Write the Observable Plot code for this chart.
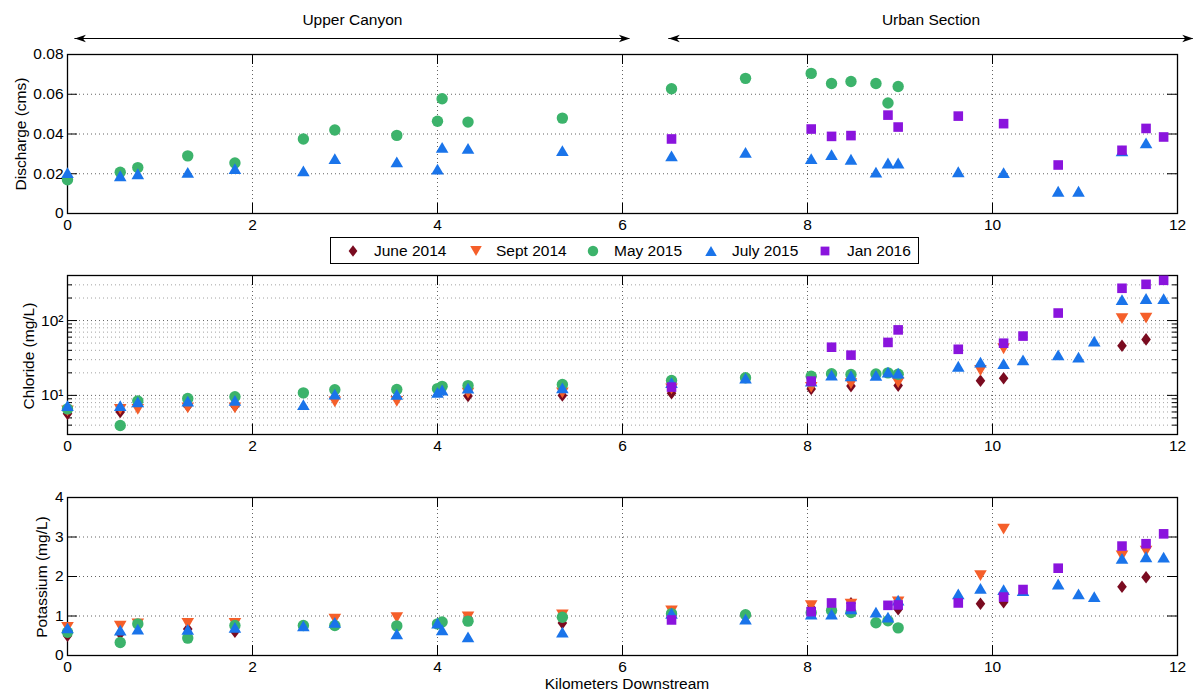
<!DOCTYPE html>
<html>
<head>
<meta charset="utf-8">
<script src="https://cdn.jsdelivr.net/npm/d3@7"></script>
<script src="https://cdn.jsdelivr.net/npm/@observablehq/plot@0.6"></script>
<style>
  body { margin: 0; background: #fff; }
  #root { position: relative; width: 1199px; height: 692px; background: #fff; font-family: "Liberation Sans", Arial, Helvetica, sans-serif; color: #000; overflow: hidden; }
  .panel { position: absolute; left: 0; }
  .ylab { position: absolute; transform: translate(-50%, -50%) rotate(-90deg); white-space: nowrap; font-size: 15.5px; }
  .xlab { position: absolute; transform: translate(-50%, -50%); white-space: nowrap; font-size: 15.5px; }
  #legend { position: absolute; left: 330px; top: 237px; width: 587px; height: 25px; border: 1.3px solid #000; background: #fff; z-index: 5; }
  .litem { position: absolute; top: 0; height: 25px; display: flex; align-items: center; font-size: 15.5px; white-space: nowrap; }
</style>
</head>
<body>
<div id="root">
  <div id="p1" class="panel" style="top:0px"></div>
  <div id="p2" class="panel" style="top:235px"></div>
  <div id="p3" class="panel" style="top:460px"></div>
  <div class="ylab" style="left:21px; top:134px">Discharge (cms)</div>
  <div class="ylab" style="left:29px; top:356px">Chloride (mg/L)</div>
  <div class="ylab" style="left:42px; top:577px">Potassium (mg/L)</div>
  <div class="xlab" style="left:627px; top:684px">Kilometers Downstream</div>
  <div id="legend"></div>
</div>
<script>
// ---------------- data ----------------
const seriesNames = ["June 2014", "Sept 2014", "May 2015", "July 2015", "Jan 2016"];
const seriesColors = ["#7a0b20", "#f55f2a", "#3cb36b", "#1a74ea", "#8a14dd"];
const seriesShapes = ["diamond", "down", "circle", "up", "square"];

const juneKm = [0, 0.57, 1.30, 1.81, 4.33, 5.35, 6.53, 8.04, 8.47, 8.98, 9.87, 10.12, 11.40, 11.66];
const juneCl = [5.7, 6.0, 7.2, 7.2, 9.8, 10.0, 10.7, 12.2, 13.3, 13.5, 15.7, 16.9, 46, 56];
const juneK  = [0.50, 0.55, 0.67, 0.60, 0.95, 0.82, 1.10, 1.20, 1.32, 1.17, 1.31, 1.35, 1.74, 1.98];

const septKm = [0, 0.57, 0.76, 1.30, 1.81, 2.89, 3.56, 4.33, 5.35, 6.53, 8.04, 8.47, 8.98, 9.87, 10.12, 11.40, 11.66];
const septCl = [6.2, 6.5, 6.5, 6.8, 6.8, 8.2, 8.3, 10.7, 10.8, 12.2, 12.8, 14.4, 14.8, 21.5, 42, 106, 108];
const septK  = [0.71, 0.74, 0.80, 0.81, 0.81, 0.92, 0.96, 0.98, 1.03, 1.13, 1.26, 1.30, 1.36, 2.02, 3.20, 2.52, 2.64];

const mayKm = [0, 0.57, 0.76, 1.30, 1.81, 2.55, 2.89, 3.56, 4.00, 4.05, 4.33, 5.35, 6.53, 7.33, 8.04, 8.26, 8.47, 8.74, 8.87, 8.98];
const mayQ  = [0.017, 0.0208, 0.0231, 0.029, 0.0254, 0.0375, 0.042, 0.0393, 0.0464, 0.0577, 0.046, 0.048, 0.0628, 0.068, 0.0705, 0.0654, 0.0664, 0.0654, 0.0556, 0.0639];
const mayCl = [6.6, 3.95, 8.4, 9.1, 9.6, 10.8, 11.9, 12.0, 12.3, 13.2, 13.5, 14.0, 15.8, 17.2, 18.0, 19.5, 19.0, 19.3, 20.0, 19.2];
const mayK  = [0.59, 0.33, 0.80, 0.44, 0.76, 0.76, 0.76, 0.75, 0.80, 0.85, 0.87, 0.97, 1.06, 1.03, 1.08, 1.14, 1.09, 0.83, 0.88, 0.70];

const julyKm = [0, 0.57, 0.76, 1.30, 1.81, 2.55, 2.89, 3.56, 4.00, 4.05, 4.33, 5.35, 6.53, 7.33, 8.04, 8.26, 8.47, 8.74, 8.87, 8.98, 9.63, 9.87, 10.12, 10.33, 10.71, 10.93, 11.10, 11.40, 11.66, 11.85];
const julyQ  = [0.0206, 0.019, 0.020, 0.0207, 0.0226, 0.0214, 0.0276, 0.026, 0.0223, 0.0333, 0.0328, 0.0316, 0.029, 0.0308, 0.0276, 0.0296, 0.0273, 0.0208, 0.0254, 0.0254, 0.021, null, 0.0206, null, 0.0112, 0.0112, null, 0.0315, 0.0355, null];
const julyCl = [7.3, 7.3, 8.2, 8.4, 8.6, 7.5, 10.4, 10.3, 11.0, 11.8, 12.5, 12.6, 14.8, 17.0, 15.5, 18.6, 18.3, 18.5, 20.5, 19.8, 24.5, 27.8, 26.5, 29.8, 34.7, 32.4, 53, 190, 197, 196];
const julyK  = [0.70, 0.64, 0.67, 0.66, 0.71, 0.75, 0.84, 0.55, 0.82, 0.65, 0.47, 0.59, 1.07, 0.92, 1.05, 1.05, 1.18, 1.10, 0.97, 1.40, 1.56, 1.70, 1.67, 1.64, 1.81, 1.56, 1.49, 2.46, 2.50, 2.49];

const janKm = [6.53, 8.04, 8.26, 8.47, 8.87, 8.98, 9.63, 10.12, 10.33, 10.71, 11.40, 11.66, 11.85];
const janQ  = [0.0375, 0.0425, 0.0388, 0.0392, 0.0495, 0.0435, 0.049, 0.0452, null, 0.0244, 0.0318, 0.0428, 0.0385];
const janCl = [12.9, 15.5, 44, 34.5, 51, 75, 41.3, 49.8, 62, 126, 270, 305, 345];
const janK  = [0.90, 1.11, 1.33, 1.24, 1.27, 1.28, 1.33, 1.48, 1.67, 2.21, 2.77, 2.83, 3.08];

const regionNames = ["Upper Canyon", "Urban Section"];
const regionStart = [0.08, 6.50];
const regionEnd   = [6.08, 12.17];

const xTicks = [0, 2, 4, 6, 8, 10, 12];
const qTicks = [0, 0.02, 0.04, 0.06, 0.08];
const clMajor = [10, 100];
const clMinor = [3, 4, 5, 6, 7, 8, 9, 20, 30, 40, 50, 60, 70, 80, 90, 200, 300, 400];
const kTicks = [0, 1, 2, 3, 4];

// ---------------- build tables ----------------
const kmArrays = [juneKm, septKm, mayKm, julyKm, janKm];
const qArrays  = [null, null, mayQ, julyQ, janQ];
const clArrays = [juneCl, septCl, mayCl, julyCl, janCl];
const kArrays  = [juneK, septK, mayK, julyK, janK];

function rows(valueArrays) {
  return seriesNames.map((name, s) => {
    const vals = valueArrays[s];
    if (!vals) return [];
    return kmArrays[s].map((km, i) => ({km, v: vals[i]})).filter(d => d.v != null);
  });
}
const qRows = rows(qArrays), clRows = rows(clArrays), kRows = rows(kArrays);
const regions = regionNames.map((name, i) => ({name, start: regionStart[i], end: regionEnd[i]}));

// ---------------- symbols ----------------
function makeSymbol(kind) {
  return {
    draw(c, size) {
      const R = Math.sqrt(size / Math.PI);
      switch (kind) {
        case "circle": c.moveTo(0.95 * R, 0); c.arc(0, 0, 0.95 * R, 0, 2 * Math.PI); c.closePath(); break;
        case "diamond": c.moveTo(0, -1.05 * R); c.lineTo(0.8 * R, 0); c.lineTo(0, 1.05 * R); c.lineTo(-0.8 * R, 0); c.closePath(); break;
        case "down": c.moveTo(-1.05 * R, -0.9 * R); c.lineTo(1.05 * R, -0.9 * R); c.lineTo(0, 0.9 * R); c.closePath(); break;
        case "up": c.moveTo(0, -0.9 * R); c.lineTo(1.05 * R, 0.9 * R); c.lineTo(-1.05 * R, 0.9 * R); c.closePath(); break;
        case "square": c.moveTo(-0.8 * R, -0.8 * R); c.lineTo(0.8 * R, -0.8 * R); c.lineTo(0.8 * R, 0.8 * R); c.lineTo(-0.8 * R, 0.8 * R); c.closePath(); break;
        case "arrowL": c.moveTo(0, 0); c.lineTo(2 * R, -0.7 * R); c.lineTo(1.45 * R, 0); c.lineTo(2 * R, 0.7 * R); c.closePath(); break;
        case "arrowR": c.moveTo(0, 0); c.lineTo(-2 * R, -0.7 * R); c.lineTo(-1.45 * R, 0); c.lineTo(-2 * R, 0.7 * R); c.closePath(); break;
      }
    }
  };
}
const R = 6;
const RA = 5.5;

// ---------------- panel builder ----------------
const W = 1199, mL = 67, mR = 22;
const frameW = W - mL - mR;
const font = "'Liberation Sans', Arial, Helvetica, sans-serif";
const gridStyle = {stroke: "#222", strokeOpacity: 0.7, strokeDasharray: "1,3", strokeWidth: 1};

function panel({height, mT, mB, y, yMajor, yMinor = [], yGrid, yMinorGrid = [], yFormat, dataRows, extra = []}) {
  const H = height - mT - mB;
  const xGrid = xTicks.filter(d => d > 0 && d < 12);
  const marks = [
    Plot.ruleX(xGrid, {x: d => d, ...gridStyle}),
    Plot.ruleY(yMinorGrid, {y: d => d, stroke: "#555", strokeOpacity: 0.55, strokeDasharray: "1,3"}),
    Plot.ruleY(yGrid, {y: d => d, ...gridStyle}),
    // inward ticks
    Plot.ruleX(xTicks, {x: d => d, insetTop: H - 10, stroke: "#000"}),
    Plot.ruleX(xTicks, {x: d => d, insetBottom: H - 10, stroke: "#000"}),
    Plot.ruleY(yMajor, {y: d => d, insetRight: frameW - 10, stroke: "#000"}),
    Plot.ruleY(yMajor, {y: d => d, insetLeft: frameW - 10, stroke: "#000"}),
    Plot.ruleY(yMinor, {y: d => d, insetRight: frameW - 5, stroke: "#000"}),
    Plot.ruleY(yMinor, {y: d => d, insetLeft: frameW - 5, stroke: "#000"}),
    Plot.frame({stroke: "#000", strokeWidth: 1.3}),
    Plot.axisX({ticks: xTicks, tickSize: 0, tickPadding: 5, label: null, tickFormat: d => String(d)}),
    Plot.axisY({ticks: yMajor, tickSize: 0, tickPadding: 4, label: null, tickFormat: yFormat}),
    ...seriesNames.map((name, s) => Plot.dot(dataRows[s], {
      x: "km", y: "v", r: R, symbol: makeSymbol(seriesShapes[s]), fill: seriesColors[s], stroke: "none"
    })),
    ...extra
  ];
  return Plot.plot({
    width: W, height, marginLeft: mL, marginRight: mR, marginTop: mT, marginBottom: mB,
    x: {domain: [0, 12]},
    y,
    style: {fontFamily: font, fontSize: "15.5px", background: "transparent", color: "#000", overflow: "visible"},
    marks
  });
}

// Panel 1: discharge
const qMax = qTicks[qTicks.length - 1];
const annot = [
  Plot.ruleY(regions, {y: () => qMax, x1: "start", x2: "end", dy: -16, stroke: "#000", strokeWidth: 1}),
  Plot.dot(regions, {x: "start", y: () => qMax, dy: -16, r: RA, symbol: makeSymbol("arrowL"), fill: "#000", stroke: "none"}),
  Plot.dot(regions, {x: "end", y: () => qMax, dy: -16, r: RA, symbol: makeSymbol("arrowR"), fill: "#000", stroke: "none"}),
  Plot.text(regions, {x: d => (d.start + d.end) / 2, frameAnchor: "top", lineAnchor: "middle", dy: -34, text: "name", fontSize: 15.5, fill: "#000"})
];
document.getElementById("p1").append(panel({
  height: 235, mT: 54, mB: 22,
  y: {domain: [0, qMax]},
  yMajor: qTicks, yGrid: qTicks.filter(d => d > 0 && d < qMax),
  yFormat: d => d === 0 ? "0" : d.toFixed(2),
  dataRows: qRows, extra: annot
}));

// Panel 2: chloride (log)
const sup = {"1": "\u00b9", "2": "\u00b2", "3": "\u00b3"};
document.getElementById("p2").append(panel({
  height: 225, mT: 40, mB: 26,
  y: {type: "log", domain: [3, 400]},
  yMajor: clMajor, yMinor: clMinor, yGrid: clMajor, yMinorGrid: clMinor.filter(d => d > 3 && d < 400),
  yFormat: d => "10" + sup[String(Math.round(Math.log10(d)))],
  dataRows: clRows
}));

// Panel 3: potassium
document.getElementById("p3").append(panel({
  height: 232, mT: 37, mB: 37,
  y: {domain: [0, 4]},
  yMajor: kTicks, yGrid: kTicks.filter(d => d > 0 && d < 4),
  yFormat: d => String(d),
  dataRows: kRows
}));

// ---------------- legend ----------------
const legend = document.getElementById("legend");
const symX = [22, 145, 262, 380, 494];
const txtX = [43, 165, 283, 401, 516];
seriesNames.forEach((name, s) => {
  const p = d3.path();
  makeSymbol(seriesShapes[s]).draw(p, 5.5 * 5.5 * Math.PI);
  const svg = d3.create("svg").attr("width", 16).attr("height", 16)
    .style("position", "absolute").style("left", (symX[s] - 8) + "px").style("top", "4.5px").style("overflow", "visible");
  svg.append("path").attr("transform", "translate(8,8)").attr("d", p.toString()).attr("fill", seriesColors[s]);
  legend.append(svg.node());
  const t = document.createElement("div");
  t.className = "litem";
  t.style.left = txtX[s] + "px";
  t.textContent = name;
  legend.append(t);
});
</script>
</body>
</html>
